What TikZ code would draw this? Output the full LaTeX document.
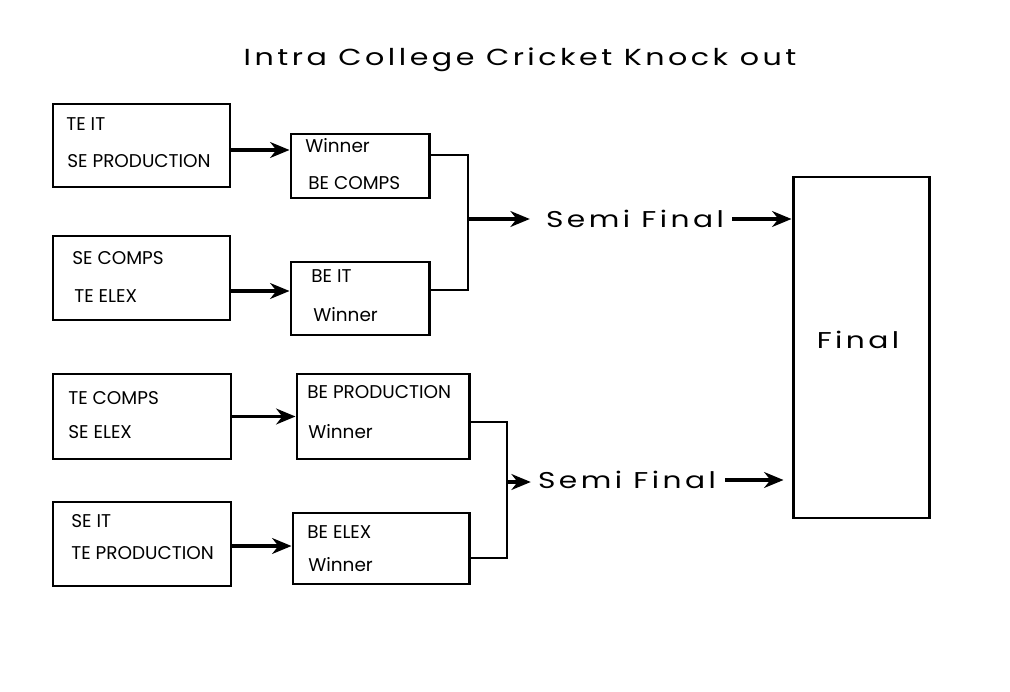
\documentclass[tikz,border=0pt]{standalone}
\usepackage{fontspec}
\setmainfont{Poppins}
\newfontfamily\wideface[FakeStretch=1.3,LetterSpace=15]{Poppins}
\usetikzlibrary{arrows.meta,fit,calc}

\tikzset{
  teambox/.style={draw,line width=1.7pt,inner sep=0pt},
  team/.style={anchor=west,inner sep=0pt,font=\fontsize{10.5}{12}\selectfont},
  stage/.style={inner sep=0pt,font=\wideface\fontsize{13}{15}\selectfont},
  flow/.style={line width=1.8pt,-{Stealth[length=11pt,width=9pt,inset=3.5pt]}},
  bracket/.style={line width=0.6pt}
}

\begin{document}
\begin{tikzpicture}[x=0.02cm,y=-0.02cm]
  \useasboundingbox (0,0) rectangle (1010,692);
  \node[stage,font=\wideface\fontsize{13.2}{15}\selectfont] (title) at (520,60) {Intra College Cricket Knock out};

  % first round
  \node[teambox,fit={(53,104) (230,187)}] (a1) {};
  \node[teambox,fit={(53,236) (230,320)}] (a2) {};
  \node[teambox,fit={(53,374) (231,459)}] (a3) {};
  \node[teambox,fit={(53,502) (231,586)}] (a4) {};
  \node[team] (a1t) at (66,124) {TE IT};
  \node[team] (a1b) at (67,161) {SE PRODUCTION};
  \node[team] (a2t) at (72,258) {SE COMPS};
  \node[team] (a2b) at (74,296) {TE ELEX};
  \node[team] (a3t) at (68,398) {TE COMPS};
  \node[team] (a3b) at (68,432) {SE ELEX};
  \node[team] (a4t) at (71,521) {SE IT};
  \node[team] (a4b) at (71,553) {TE PRODUCTION};

  % second round
  \node[teambox,fit={(291,134) (429,198)}] (w1) {};
  \node[teambox,fit={(291,262) (429,335)}] (w2) {};
  \node[teambox,fit={(297,374) (469,459)}] (w3) {};
  \node[teambox,fit={(293,513) (469,584)}] (w4) {};
  \node[team] (w1t) at (305,146) {Winner};
  \node[team] (w1b) at (308,183) {BE COMPS};
  \node[team] (w2t) at (311,276) {BE IT};
  \node[team] (w2b) at (313,315) {Winner};
  \node[team] (w3t) at (307,392) {BE PRODUCTION};
  \node[team] (w3b) at (308,432) {Winner};
  \node[team] (w4t) at (307,532) {BE ELEX};
  \node[team] (w4b) at (308,565) {Winner};

  \draw[flow] ($(a1.east)+(0,4.5)$) -- ($(a1.east -| w1.west)+(0,4.5)$);
  \draw[flow] ($(a2.east)+(0,13)$) -- ($(a2.east -| w2.west)+(0,13)$);
  \draw[flow] (a3.east) -- (a3.east -| w3.west);
  \draw[flow] ($(a4.east)+(0,2)$) -- ($(a4.east -| w4.west)+(0,2)$);

  % semi finals and final
  \coordinate (j1) at (468,219);
  \coordinate (j2) at (507,482);
  \node[stage] (s1) at (635,219) {Semi Final};
  \node[stage] (s2) at (627,480) {Semi Final};
  \node[teambox,fit={(793,177) (929,518)}] (fin) {};
  \node[stage] (fint) at (858,340) {Final};

  \draw[bracket] ($(w1.east)+(0,-11)$) -| (j1) |- ($(w2.east)+(0,-8.5)$);
  \draw[bracket] ($(w3.east)+(0,5.5)$) -| (j2) |- ($(w4.east)+(0,9.5)$);
  \draw[flow,shorten >=0.32cm] (j1) -- (j1 -| s1.west);
  \draw[flow,shorten >=0.14cm] (j2) -- (j2 -| s2.west);
  \draw[flow,shorten <=0.16cm] (s1.east) -- (s1.east -| fin.west);
  \draw[flow,shorten <=0.18cm,shorten >=0.16cm] (s2.east) -- (s2.east -| fin.west);
\end{tikzpicture}
\end{document}
